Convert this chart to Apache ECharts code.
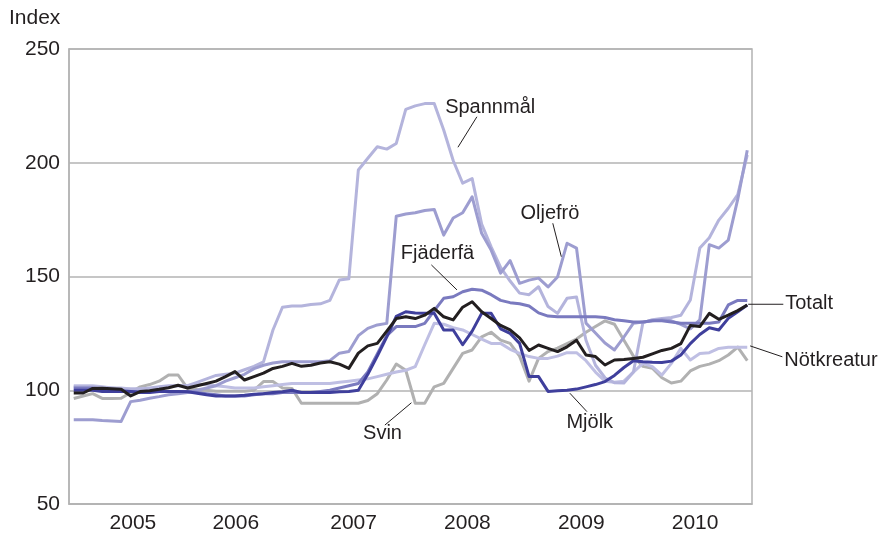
<!DOCTYPE html>
<html>
<head>
<meta charset="utf-8">
<script src="https://cdn.jsdelivr.net/npm/echarts@6/dist/echarts.min.js"></script>
<style>
  html, body { margin: 0; padding: 0; background: #fff; }
  #chart { width: 887px; height: 535px; }
</style>
</head>
<body>
<div id="chart"></div>
<script>
// monthly index values, Jan 2005 - Dec 2010
const years = ["2005", "2006", "2007", "2008", "2009", "2010"];

const totalt = [
  98.8, 98.8, 100.8, 100.9, 100.7, 100.4, 97.5, 99.4, 99.8, 100.4, 101.1, 102.2,
  101, 102, 103, 104, 106, 108.2, 104.5, 106, 107.5, 109.6, 110.5, 111.8,
  110.5, 111, 112, 112.5, 111.5, 109.6, 116.3, 119.5, 120.6, 126, 131.5, 132.3,
  131.5, 133, 136, 132.3, 130.9, 136.5, 138.9, 134.5, 131.5, 128.5, 126.5, 123,
  117.5, 119.9, 118.4, 117, 119.1, 122, 115.5, 114.8, 111.1, 113.3, 113.5, 114,
  114.5, 116, 117.5, 118.4, 120.5, 128.5, 128, 133.8, 131.2, 133, 135, 137.5
];
const mjolk = [
  100, 100, 100, 99.5, 99.5, 99.5, 99.5, 99, 99, 99.5, 99.5, 99.5,
  99.3, 98.7, 98, 97.5, 97.5, 97.5, 97.8, 98.2, 98.5, 99, 99.3, 100,
  99, 99, 99, 99, 99.3, 99.5, 100, 107, 115, 123.5, 132.5, 134.5,
  134, 133.8, 133.8, 126.5, 126.5, 120, 126, 133.8, 133.8, 127, 125, 120.6,
  106, 106, 99.5, 99.8, 100, 100.5, 101.5, 102.5, 103.8, 106.5, 110, 113,
  112.5, 112.3, 112.2, 112.8, 115.5, 120.5, 124.5, 127.5, 126.5, 131.6, 134.5, 137.5
];
const fjaderfa = [
  101, 101, 101, 100.5, 100, 100, 99.5, 99.5, 99.5, 99.5, 99.5, 99.5,
  99.5, 99, 98.5, 98, 97.5, 97.5, 97.5, 98, 98.5, 98.5, 99, 99,
  99, 99, 99.5, 100, 101, 102, 103, 108, 116, 124, 128, 128,
  128, 129.4, 135, 140.4, 141.1, 143.3, 144.4, 144, 142, 139.5, 138.5, 138,
  137, 134, 132.6, 132.3, 132.3, 132.3, 132.3, 132.3, 132, 131, 130.5, 130,
  130, 130.5, 130.5, 130, 129.5, 129.5, 129.5, 129.5, 130, 137.5, 139.5, 139.5
];
const spannmal = [
  101.5, 101.5, 101.5, 101, 101, 100.5, 100.5, 100.5, 101, 101.5, 102, 102,
  102, 103.5, 105, 106.5, 107, 107.5, 109, 110.5, 112.5, 126.5, 136.5, 137,
  137, 137.7, 138, 139.5, 148.5, 149, 196.8, 202, 207, 206, 208.5, 223.5,
  225, 226, 226, 214.4, 201, 191, 193, 173, 163, 154, 148, 142.7,
  142, 145.5, 136.8, 133.8, 140.4, 141, 122, 111, 105.5, 103.3, 103.2, 108,
  129.7, 131, 131.5, 132, 133, 139.7, 162.5, 167, 174.8, 180, 186, 203.5
];
const oljefro = [
  87, 87, 87, 86.7, 86.5, 86.3, 95, 95.6, 96.5, 97.2, 98, 98.5,
  99, 100, 101, 102, 104, 105.5, 107, 109.5, 111, 112, 112.5, 112.5,
  112.5, 112.5, 112.5, 113, 116.3, 117, 124, 127.2, 128.7, 129.4, 176.5, 177.5,
  178, 179, 179.5, 168.2, 175.7, 178, 185, 169, 161.6, 151.5, 157, 147,
  148.4, 149.3, 145.4, 149.8, 164.6, 162.5, 129.5, 125.2, 120.8, 117.7, 123.4, 129.5,
  130, 130.5, 131, 130.5, 129, 127, 131, 164, 162.5, 166, 184, 205.5
];
const notkreatur = [
  102, 102, 102, 101.5, 101, 101, 100.5, 100.5, 100.5, 101, 101.5, 102,
  102, 102.5, 102.5, 102, 101.5, 101, 101, 101, 101.5, 102, 102.5, 103,
  103, 103, 103, 103, 103.5, 104, 104.5, 105, 106, 107, 108, 108.8,
  110.4, 120, 129.4, 129, 127.5, 126.5, 124.5, 122.5, 120.6, 120.6, 118, 116.2,
  114.8, 114, 114, 115, 116.5, 116.5, 113, 108, 104, 103.5, 104, 108,
  111.8, 110.4, 106.7, 111.8, 118.4, 113.3, 116.2, 116.5, 118.4, 118.9, 118.9, 118.9
];
const svin = [
  96.4, 97.5, 98.5, 96.4, 96.4, 96.5, 99, 101.5, 102.5, 104, 106.7, 106.7,
  100.8, 100.3, 100, 99.6, 99.6, 99.6, 99.6, 100, 103.8, 103.8, 101, 100.8,
  94.3, 94.3, 94.3, 94.3, 94.3, 94.3, 94.3, 95.5, 98.5, 104.5, 111.5, 108.8,
  94.3, 94.3, 101.5, 103, 109.6, 116.2, 117.7, 123.5, 125.5, 122, 120.6, 115,
  104, 114, 117, 118.5, 120.5, 122.5, 125.5, 128, 130.5, 129, 122, 115,
  110.5, 109.7, 105.5, 103.2, 104, 108.5, 110.5, 111.5, 113, 115.5, 119, 113
];

// label text, text position, leader start, leader end (month index, index value)
const notes = [
  { text: "Spannmål", at: [44.4, 224.5], from: [43.0, 220.2], to: [41.0, 206.8], align: "center" },
  { text: "Oljefrö", at: [50.7, 177.9], from: [51.0, 173.4], to: [51.9, 158.7], align: "center" },
  { text: "Fjäderfä", at: [38.85, 159.9], from: [38.2, 155.1], to: [40.9, 144.1], align: "center" },
  { text: "Svin", at: [33.05, 80.8], from: [33.3, 84.7], to: [36.1, 94.5], align: "center" },
  { text: "Mjölk", at: [54.9, 86.0], from: [54.6, 90.6], to: [52.8, 98.7], align: "center" },
  { text: "Totalt", at: [75.5, 138.3], from: [71.6, 137.8], to: [75.3, 137.8], align: "left" },
  { text: "Nötkreatur", at: [75.4, 112.9], from: [71.8, 119.5], to: [75.2, 114.7], align: "left" }
];

const FONT = '"Liberation Sans", Arial, sans-serif';
const INK = "#231f20";
const GRID = "#b3b3b3";

const chart = echarts.init(document.getElementById("chart"));

const mk = (name, values, color) => ({
  name,
  type: "line",
  xAxisIndex: 0,
  showSymbol: false,
  symbol: "none",
  lineStyle: { width: 3, color, join: "round" },
  itemStyle: { color },
  data: values.map((v, i) => [i + 0.5, v]),
});

const yearText = { fontSize: 21, color: INK, fontFamily: FONT };

const option = {
  animation: false,
  backgroundColor: "#fff",
  title: {
    text: "Index",
    left: 4,
    top: 3,
    textStyle: { fontSize: 21, fontWeight: "normal", color: INK, fontFamily: FONT },
  },
  grid: {
    left: 69, right: 135, top: 49, bottom: 31,
    show: true, borderColor: GRID, borderWidth: 1.5, backgroundColor: "transparent",
  },
  xAxis: [
    { type: "value", min: 0, max: 72, show: false },
    {
      type: "category",
      data: years,
      boundaryGap: true,
      position: "bottom",
      axisLine: { lineStyle: { color: GRID, width: 1.5 } },
      axisTick: { inside: true, length: 8, lineStyle: { color: GRID, width: 1.5 } },
      axisLabel: {
        margin: 9,
        fontSize: 21, color: INK, fontFamily: FONT,
        // first two year labels sit a little off the band centre in the original
        formatter: (v) => (v === "2005" ? "{a|" + v + "}" : v === "2006" ? "{b|" + v + "}" : v),
        rich: {
          a: Object.assign({ padding: [0, 0, 0, 14] }, yearText),
          b: Object.assign({ padding: [0, 8, 0, 0] }, yearText),
        },
      },
      splitLine: { show: false },
    },
  ],
  yAxis: {
    type: "value",
    min: 50, max: 250, interval: 50,
    axisLine: { show: true, lineStyle: { color: GRID, width: 1.5 } },
    axisTick: { show: false },
    axisLabel: { fontSize: 21, color: INK, fontFamily: FONT, margin: 9 },
    splitLine: { lineStyle: { color: GRID, width: 1.5 } },
  },
  series: [
    mk("Svin", svin, "#b1b1b1"),
    mk("Nötkreatur", notkreatur, "#bfbfe3"),
    mk("Spannmål", spannmal, "#b4b4dc"),
    mk("Oljefrö", oljefro, "#9d9dd0"),
    mk("Fjäderfä", fjaderfa, "#7a7abf"),
    mk("Mjölk", mjolk, "#3f3f9c"),
    mk("Totalt", totalt, INK),
  ],
};

chart.setOption(option);

// annotation labels with leader lines, placed from data coordinates
const px = (p) => chart.convertToPixel({ xAxisIndex: 0, yAxisIndex: 0 }, p);
const elements = [];
notes.forEach((n) => {
  const a = px(n.at), f = px(n.from), t = px(n.to);
  elements.push({
    type: "line",
    shape: { x1: f[0], y1: f[1], x2: t[0], y2: t[1] },
    style: { stroke: INK, lineWidth: 1 },
    z: 100,
  });
  elements.push({
    type: "text",
    x: a[0], y: a[1],
    style: {
      text: n.text, fill: INK, font: "20px " + FONT,
      textAlign: n.align, textVerticalAlign: "middle",
      align: n.align, verticalAlign: "middle",
    },
    z: 100,
  });
});
chart.setOption({ graphic: elements });
</script>
</body>
</html>
